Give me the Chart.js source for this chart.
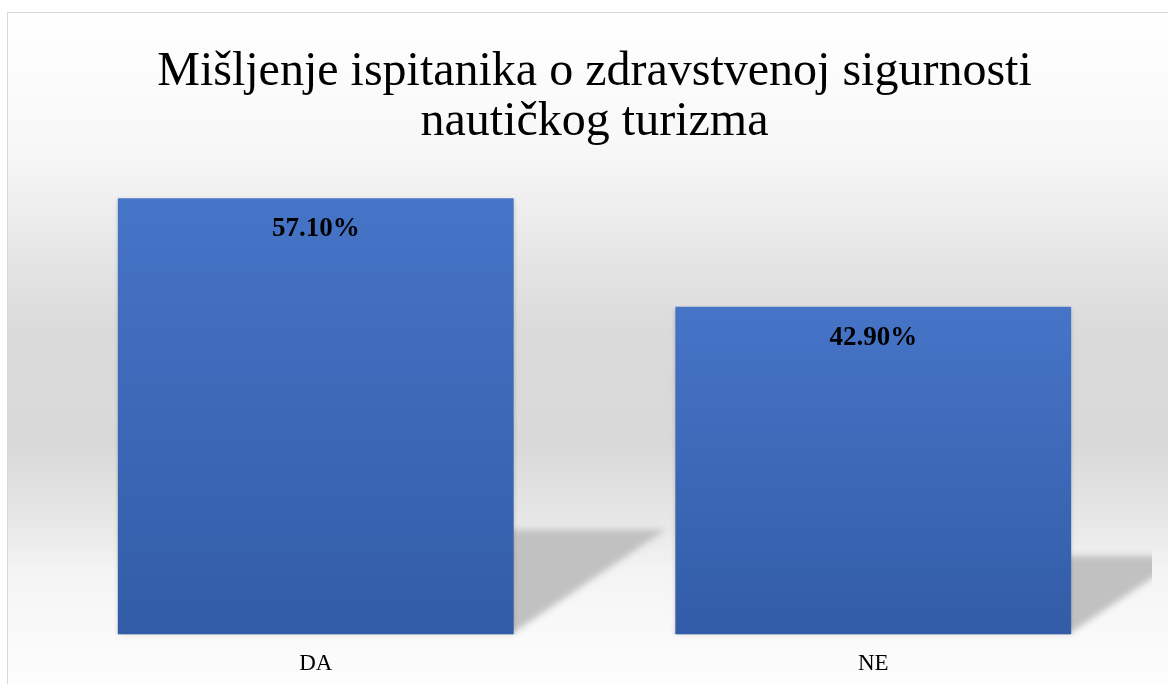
<!DOCTYPE html>
<html>
<head>
<meta charset="utf-8">
<script src="https://cdn.jsdelivr.net/npm/chart.js@4.4.0/dist/chart.umd.min.js"></script>
<style>
  html, body { margin: 0; padding: 0; background: #fff; overflow: hidden; width: 1168px; height: 684px; }
  #wrap {
    position: absolute; left: 7px; top: 12px; width: 1176px; height: 681px;
    border: 1px solid #d9d9d9;
    background: linear-gradient(to bottom, #ffffff 0px, #f7f7f7 140px, #e6e6e6 240px, #dadada 320px, #d9d9d9 430px, #e8e8e8 510px, #f4f4f4 560px, #fbfbfb 640px, #fdfdfd 681px);
  }
  canvas { display: block; }
</style>
</head>
<body>
<div id="wrap"><canvas id="chart"></canvas></div>
<script>
// === Data ===
const titleLines = ['Mišljenje ispitanika o zdravstvenoj sigurnosti', 'nautičkog turizma'];
const categories = ['DA', 'NE'];
const values = [57.1, 42.9];
const yMax = 60;

const serif = '"Liberation Serif", "Times New Roman", serif';

// per-bar vertical gradient, top of each bar to the axis
function barFill(ctx) {
  const chart = ctx.chart;
  if (!chart.chartArea) return '#4472c4';
  const y = chart.scales.y;
  const top = y.getPixelForValue(values[ctx.dataIndex]);
  const bottom = y.getPixelForValue(0);
  const g = chart.ctx.createLinearGradient(0, top, 0, bottom);
  g.addColorStop(0, '#4674c7');
  g.addColorStop(1, '#325ca7');
  return g;
}

// perspective shadow behind the bars + soft shadow on the bars
const shadowPlugin = {
  id: 'barShadow',
  beforeDatasetsDraw(chart) {
    const { ctx, chartArea } = chart;
    const meta = chart.getDatasetMeta(0);
    ctx.save();
    ctx.beginPath();
    ctx.rect(chartArea.left, chartArea.top, chartArea.right - chartArea.left, chartArea.bottom - chartArea.top + 10);
    ctx.clip();
    ctx.filter = 'blur(3px)';
    ctx.fillStyle = '#c1c1c1';
    meta.data.forEach(bar => {
      const half = bar.width / 2;
      const L = bar.x - half, R = bar.x + half, B = bar.base;
      const h = (B - bar.y) * 0.24;
      const dx = h * 1.45;
      ctx.beginPath();
      ctx.moveTo(L, B - 2);
      ctx.lineTo(R, B - 2);
      ctx.lineTo(R + dx, B - h);
      ctx.lineTo(L + dx, B - h);
      ctx.closePath();
      ctx.fill();
    });
    ctx.restore();
    ctx.save();
    ctx.shadowColor = 'rgba(0,0,0,0.18)';
    ctx.shadowBlur = 4;
    ctx.shadowOffsetY = 2;
  },
  afterDatasetsDraw(chart) {
    const { ctx } = chart;
    ctx.restore();
    // value labels inside the bar tops
    const meta = chart.getDatasetMeta(0);
    ctx.save();
    ctx.font = 'bold 27px ' + serif;
    ctx.fillStyle = '#000';
    ctx.textAlign = 'center';
    ctx.textBaseline = 'middle';
    meta.data.forEach((bar, i) => {
      ctx.fillText(values[i].toFixed(2) + '%', bar.x, bar.y + 31);
    });
    ctx.restore();
  }
};

new Chart(document.getElementById('chart'), {
  type: 'bar',
  data: {
    labels: categories,
    datasets: [{
      data: values,
      backgroundColor: barFill,
      borderWidth: 0,
      categoryPercentage: 1,
      barPercentage: 0.71
    }]
  },
  options: {
    responsive: true,
    maintainAspectRatio: false,
    animation: false,
    layout: { padding: { left: 29, right: 32, top: 0, bottom: 0 } },
    plugins: {
      legend: { display: false },
      tooltip: { enabled: false },
      title: {
        display: true,
        text: titleLines,
        color: '#000',
        font: { family: serif, size: 48, weight: 'normal', lineHeight: 1.042 },
        padding: { top: 34, bottom: 29 }
      }
    },
    scales: {
      x: {
        grid: { display: false, drawTicks: false },
        border: { display: false },
        ticks: { color: '#000', font: { family: serif, size: 23 }, padding: 16 }
      },
      y: {
        display: false,
        min: 0,
        max: yMax
      }
    }
  },
  plugins: [shadowPlugin]
});
</script>
</body>
</html>
